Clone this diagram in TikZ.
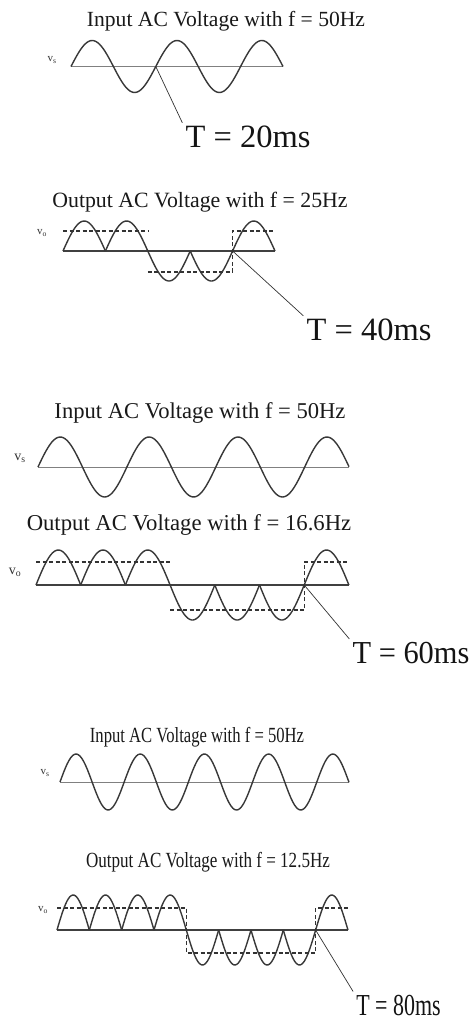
\documentclass[tikz,border=0pt]{standalone}
\usepackage{fontspec}
\setmainfont{Liberation Serif}
\newfontfamily\snugfont[FakeStretch=0.95]{Liberation Serif}
\newfontfamily\narrowfont[FakeStretch=0.77]{Liberation Serif}
\newfontfamily\narrowerfont[FakeStretch=0.79]{Liberation Serif}
\newfontfamily\slimfont[FakeStretch=0.72]{Liberation Serif}

\tikzset{
  wave/.style={line width=1.4pt,draw=black!78,line join=round},
  inaxis/.style={line width=1pt,draw=black!50},
  outaxis/.style={line width=1.1pt,draw=black!75},
  sqwave/.style={line width=1.3pt,draw=black!80,dash pattern=on 4pt off 2.5pt},
  leader/.style={line width=.7pt,draw=black!80},
  title/.style={font=\fontsize{21.6}{24}\selectfont,text=black!90,inner sep=1pt},
  tlabel/.style={font=\fontsize{32.5}{36}\selectfont,text=black!92,inner sep=3pt},
  vlabel/.style={font=\fontsize{11}{12}\selectfont,text=black!80,inner sep=1pt}
}

\begin{document}
\begin{tikzpicture}[x=1pt,y=-1pt]
  \useasboundingbox[fill=white] (0,0) rectangle (473,1021);

  % 50Hz in, 25Hz out
  \node[title] (in1) at (226,21) {Input AC Voltage with f = 50Hz};
  \node[vlabel] (vs1) at (52,60) {v\textsubscript{s}};
  \draw[inaxis] (71,66.5) -- (283,66.5);
  \draw[wave] plot[domain=0:212,samples=120] ({71+\x},{66.5-26*sin(\x/84.8*360)});
  \coordinate (z1) at (155.8,66.5);
  \node[tlabel] (T1) at (248,137) {T = 20ms};
  \draw[leader] (z1) -- (T1.north west);

  \node[title,font=\fontsize{21.8}{24}\selectfont] (out1) at (200,202) {Output AC Voltage with f = 25Hz};
  \node[vlabel] (vo1) at (42,233) {v\textsubscript{o}};
  \draw[outaxis] (63,251) -- (275,251);
  \foreach \i/\s in {0/1,1/1,2/-1,3/-1,4/1}
    \draw[wave] plot[domain=0:42.4,samples=30] ({63+42.4*\i+\x},{251-\s*30*sin(\x/42.4*180)});
  \draw[sqwave] (63,231) -- (147.8,231) (147.8,272) -- (232.6,272) |- (275,231);
  \coordinate (z2) at (232.6,251);
  \node[tlabel] (T2) at (369,330) {T = 40ms};
  \draw[leader] (z2) -- (T2.north west);

  % 50Hz in, 16.6Hz out
  \node[title,font=\fontsize{22.6}{26}\selectfont] (in2) at (200,413) {Input AC Voltage with f = 50Hz};
  \node[vlabel,font=\fontsize{14}{16}\selectfont] (vs2) at (20,458) {v\textsubscript{s}};
  \draw[inaxis] (38,467) -- (349,467);
  \draw[wave] plot[domain=0:311,samples=160] ({38+\x},{467-30*sin(\x/88.9*360)});

  \node[title,font=\fontsize{22.7}{26}\selectfont] (out2) at (189,525) {Output AC Voltage with f = 16.6Hz};
  \node[vlabel,font=\fontsize{14}{16}\selectfont] (vo2) at (15,572) {v\textsubscript{o}};
  \draw[outaxis] (36,585) -- (349,585);
  \foreach \i/\s in {0/1,1/1,2/1,3/-1,4/-1,5/-1,6/1}
    \draw[wave] plot[domain=0:44.7,samples=30] ({36+44.7*\i+\x},{585-\s*35*sin(\x/44.7*180)});
  \draw[sqwave] (36,562) -- (170.1,562) (170.1,610) -- (304.2,610) |- (349,562);
  \coordinate (z3) at (304.2,585);
  \node[tlabel,font=\fontsize{32}{36}\snugfont] (T3) at (411,653) {T = 60ms};
  \draw[leader] (z3) -- (T3.north west);

  % 50Hz in, 12.5Hz out
  \node[title,font=\fontsize{21.6}{24}\narrowfont] (in3) at (197,737) {Input AC Voltage with f = 50Hz};
  \node[vlabel] (vs3) at (45,773) {v\textsubscript{s}};
  \draw[inaxis] (60,782) -- (349,782);
  \draw[wave] plot[domain=0:289,samples=160] ({60+\x},{782-28*sin(\x/64.2*360)});

  \node[title,font=\fontsize{21.6}{24}\narrowerfont] (out3) at (208,862) {Output AC Voltage with f = 12.5Hz};
  \node[vlabel] (vo3) at (43,910) {v\textsubscript{o}};
  \draw[outaxis] (57,930) -- (348,930);
  \foreach \i/\s in {0/1,1/1,2/1,3/1,4/-1,5/-1,6/-1,7/-1,8/1}
    \draw[wave] plot[domain=0:32.33,samples=24] ({57+32.33*\i+\x},{930-\s*35*sin(\x/32.33*180)});
  \draw[sqwave] (57,908) -| (186.3,953) -| (315.6,908) -- (348,908);
  \coordinate (z4) at (315.6,930);
  \node[tlabel,font=\fontsize{30.5}{34}\slimfont] (T4) at (398.5,1005) {T = 80ms};
  \draw[leader] (z4) -- (T4.north west);
\end{tikzpicture}
\end{document}
